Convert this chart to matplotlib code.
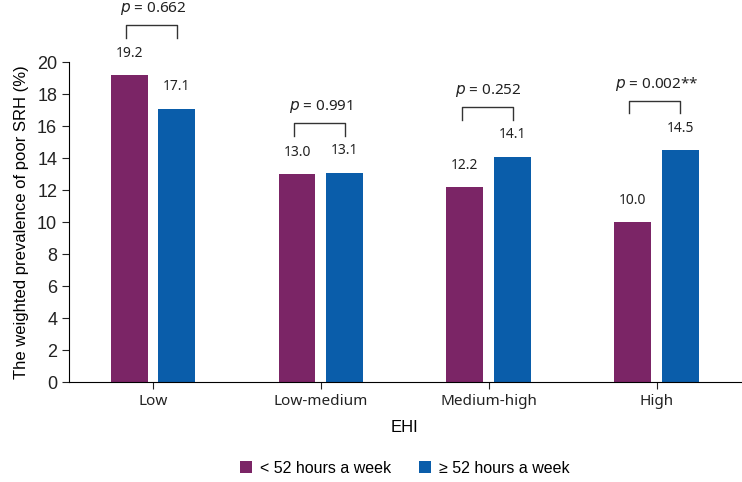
import matplotlib.pyplot as plt
import numpy as np

plt.rcParams['font.family'] = ['Noto Sans', 'DejaVu Sans']

## data
groups = ['Low', 'Low-medium', 'Medium-high', 'High']
under52 = [19.2, 13.0, 12.2, 10.0]
over52 = [17.1, 13.1, 14.1, 14.5]
p_labels = ['0.662', '0.991', '0.252', '0.002**']

purple = '#7B2566'
blue = '#0A5DAA'
arial = ['Liberation Sans', 'DejaVu Sans']

fig = plt.figure(figsize=(7.42, 4.82), dpi=100)
ax = fig.add_axes([0.093, 0.207, 0.905, 0.664])

x = np.arange(len(groups))
w = 0.22
off = 0.142
ax.bar(x - off, under52, w, color=purple, label='< 52 hours a week')
ax.bar(x + off, over52, w, color=blue, label='≥ 52 hours a week')

for i in range(len(groups)):
    ax.text(x[i] - off, under52[i] + 0.9, f'{under52[i]:.1f}', ha='center', va='bottom', fontsize=10, color='#222222')
    ax.text(x[i] + off, over52[i] + 0.9, f'{over52[i]:.1f}', ha='center', va='bottom', fontsize=10, color='#222222')
    top = max(under52[i], over52[i]) + 3.1
    xs = [x[i] - off - 0.02, x[i] - off - 0.02, x[i] + off, x[i] + off]
    ys = [top - 0.8, top, top, top - 0.8]
    ax.plot(xs, ys, color='#333333', lw=1, clip_on=False)
    ax.text(x[i], top + 0.5, '$p$ = ' + p_labels[i], ha='center', va='bottom', fontsize=11, color='#222222', clip_on=False)

ax.set_xlim(-0.5, 3.5)
ax.set_ylim(0, 20)
ax.set_yticks(range(0, 21, 2))
ax.set_yticklabels([str(v) for v in range(0, 21, 2)], family=arial, fontsize=13)
ax.set_xticks(x)
ax.set_xticklabels(groups, fontsize=11)
ax.tick_params(colors='#222222', length=5)
ax.spines['top'].set_visible(False)
ax.spines['right'].set_visible(False)
ax.set_xlabel('EHI', fontsize=12, family=arial, labelpad=8)
ax.set_ylabel('The weighted prevalence of poor SRH (%)', fontsize=12, family=arial, labelpad=6)

ax.legend(loc='upper center', bbox_to_anchor=(0.5, -0.2), ncol=2, frameon=False,
          prop={'family': arial, 'size': 11.5}, handlelength=0.7, handleheight=0.7,
          columnspacing=1.8, handletextpad=0.5)

fig.savefig('out.png', dpi=100)
